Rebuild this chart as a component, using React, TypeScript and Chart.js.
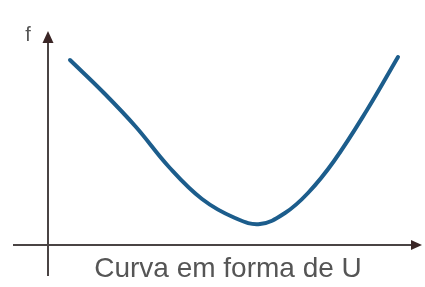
import React, { useEffect, useRef } from "react";
import { Chart, registerables } from "chart.js";

Chart.register(...registerables);

// Curve sample points (horizontal position, f value)
const xValues = [22, 55, 88, 121, 154, 187, 212, 237, 260, 286, 319, 350];
const fValues = [185, 153, 118, 78, 46, 27, 21, 32, 52, 84, 135, 188];
const yAxisLabel = "f";
const xAxisLabel = "Curva em forma de U";

const X_MAX = 374;
const Y_MAX = 214;

const axesPlugin = {
  id: "uAxes",
  beforeDatasetsDraw(chart: any) {
    const ctx = chart.ctx;
    const xs = chart.scales.x;
    const ys = chart.scales.y;
    const x0 = xs.getPixelForValue(0);
    const y0 = ys.getPixelForValue(0);
    const xEnd = xs.getPixelForValue(X_MAX);
    const yTop = ys.getPixelForValue(Y_MAX);
    ctx.save();
    ctx.strokeStyle = "#4a4444";
    ctx.lineWidth = 2;
    // x axis
    ctx.beginPath();
    ctx.moveTo(13, y0);
    ctx.lineTo(xEnd - 8, y0);
    ctx.stroke();
    // y axis
    ctx.beginPath();
    ctx.moveTo(x0, 276);
    ctx.lineTo(x0, yTop + 8);
    ctx.stroke();
    ctx.fillStyle = "#3a2626";
    // x arrow
    ctx.beginPath();
    ctx.moveTo(xEnd, y0);
    ctx.lineTo(xEnd - 11, y0 - 5);
    ctx.lineTo(xEnd - 11, y0 + 5);
    ctx.closePath();
    ctx.fill();
    // y arrow
    ctx.beginPath();
    ctx.moveTo(x0, yTop);
    ctx.lineTo(x0 - 5.5, yTop + 12);
    ctx.lineTo(x0 + 5.5, yTop + 12);
    ctx.closePath();
    ctx.fill();
    // labels
    ctx.fillStyle = "#555555";
    ctx.font = "20px 'Liberation Sans', Arial, sans-serif";
    ctx.textAlign = "center";
    ctx.textBaseline = "alphabetic";
    ctx.fillText(yAxisLabel, 28, 41);
    ctx.font = "28px 'Liberation Sans', Arial, sans-serif";
    ctx.fillText(xAxisLabel, 228, 277);
    ctx.restore();
  },
};

export default function App() {
  const ref = useRef<HTMLCanvasElement>(null);
  useEffect(() => {
    if (!ref.current) return;
    const chart = new Chart(ref.current, {
      type: "line",
      data: {
        datasets: [
          {
            data: xValues.map((x, i) => ({ x, y: fValues[i] })),
            borderColor: "#1c5d8c",
            borderWidth: 4,
            pointRadius: 0,
            tension: 0.4,
            borderCapStyle: "round",
            borderJoinStyle: "round",
            fill: false,
          },
        ],
      },
      options: {
        animation: false,
        responsive: false,
        events: [],
        layout: { padding: { left: 48, right: 3, top: 31, bottom: 42 } },
        plugins: { legend: { display: false }, tooltip: { enabled: false }, title: { display: false } },
        scales: {
          x: { type: "linear", min: 0, max: X_MAX, display: false },
          y: { type: "linear", min: 0, max: Y_MAX, display: false },
        },
      },
      plugins: [axesPlugin],
    } as any);
    return () => chart.destroy();
  }, []);
  return (
    <div style={{ position: "fixed", left: 0, top: 0, width: 425, height: 287, background: "#fff" }}>
      <canvas ref={ref} width={425} height={287} />
    </div>
  );
}
